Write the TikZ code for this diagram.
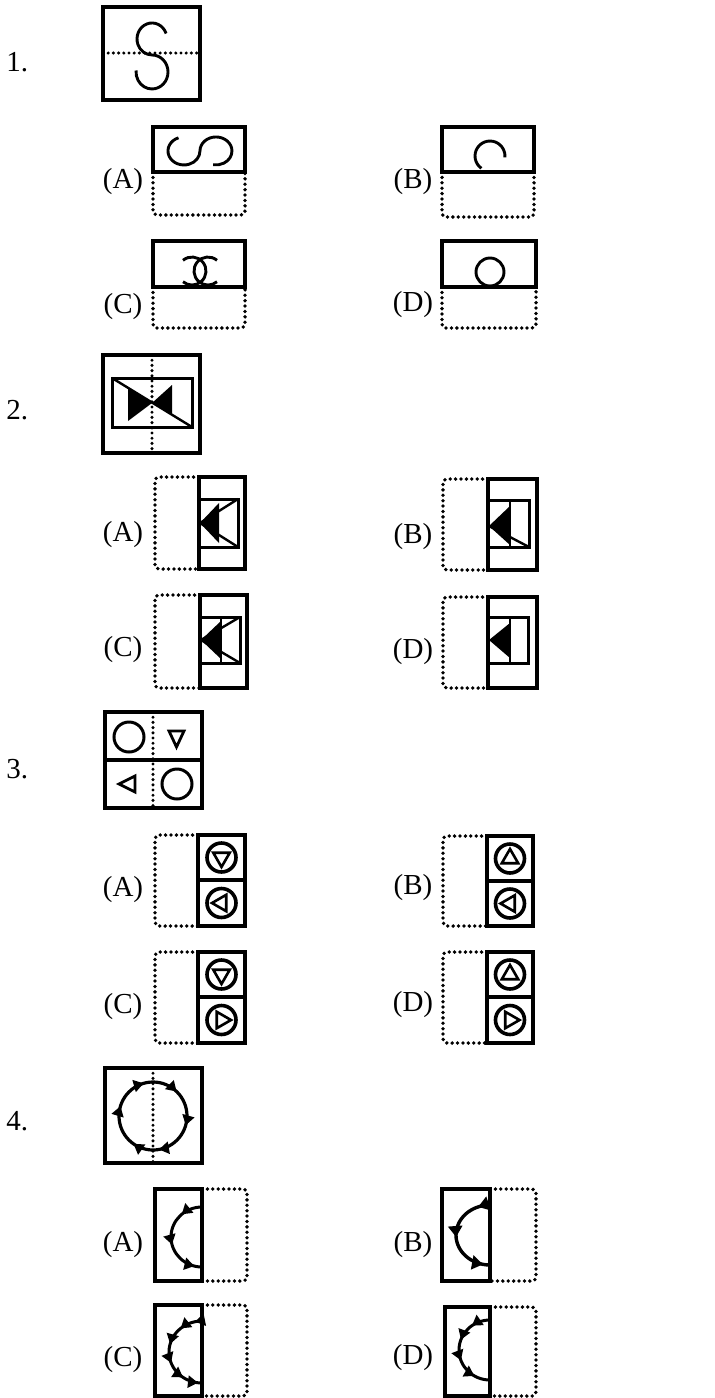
\documentclass[tikz,border=0pt]{standalone}
\usepackage{fontspec}
\setmainfont{Liberation Serif}
\usetikzlibrary{decorations.markings,arrows.meta}
\tikzset{
  solidbox/.style={line width=1.6pt},
  dotbox/.style={line width=1.9pt, dash pattern=on 0pt off 2.7pt, line cap=round, rounded corners=2pt},
  fold/.style={line width=1.7pt, dash pattern=on 0pt off 2.6pt, line cap=round},
  glyph/.style={line width=1.45pt},
  ring/.style={line width=1.8pt},
  lbl/.style={font=\fontsize{14.5}{16}\selectfont, inner sep=0pt},
  pics/tri/.style={code={\draw[line width=1.3pt, line join=miter] (#1:9.5) -- ({#1+120}:9.5) -- ({#1+240}:9.5) -- cycle;}}
}
\begin{document}
\begin{tikzpicture}[x=0.5pt,y=-0.5pt]
\useasboundingbox (0,0) rectangle (714,1398);

% ---------- labels ----------
\node[lbl,anchor=west] (n1) at (6,62) {1.};
\node[lbl,anchor=west] (n2) at (6,410) {2.};
\node[lbl,anchor=west] (n3) at (6,769) {3.};
\node[lbl,anchor=west] (n4) at (6,1121) {4.};
\node[lbl] (l1a) at (123,182) {(A)};
\node[lbl] (l1b) at (413,182) {(B)};
\node[lbl] (l1c) at (123,307) {(C)};
\node[lbl] (l1d) at (413,305) {(D)};
\node[lbl] (l2a) at (123,535) {(A)};
\node[lbl] (l2b) at (413,537) {(B)};
\node[lbl] (l2c) at (123,650) {(C)};
\node[lbl] (l2d) at (413,652) {(D)};
\node[lbl] (l3a) at (123,890) {(A)};
\node[lbl] (l3b) at (413,888) {(B)};
\node[lbl] (l3c) at (123,1007) {(C)};
\node[lbl] (l3d) at (413,1005) {(D)};
\node[lbl] (l4a) at (123,1245) {(A)};
\node[lbl] (l4b) at (413,1245) {(B)};
\node[lbl] (l4c) at (123,1360) {(C)};
\node[lbl] (l4d) at (413,1358) {(D)};

% ================= Question 1 =================
\draw[solidbox] (103,7) rectangle (200,100);
\draw[fold] (103,53) -- (200,53);
\draw[glyph] (166.1,33.5) arc[start angle=-20,end angle=-270,x radius=15,y radius=16]
  arc[start angle=-90,end angle=185,x radius=16,y radius=17];
% A
\draw[dotbox] (153,172) -- (153,215) -- (245,215) -- (245,172);
\draw[solidbox] (153,127) rectangle (245,172);
\draw[glyph] (178.5,137.8) arc[start angle=-110,end angle=-360,x radius=16,y radius=14]
  arc[start angle=-180,end angle=100,x radius=16,y radius=14];
% B
\draw[dotbox] (442,172) -- (442,217) -- (534,217) -- (534,172);
\draw[solidbox] (442,127) rectangle (534,172);
\draw[glyph] (481.4,168.3) arc[start angle=-235,end angle=5,radius=15];
% C
\draw[dotbox] (153,287) -- (153,328) -- (245,328) -- (245,287);
\draw[solidbox] (153,241) rectangle (245,287);
\draw[glyph] (183.0,260.3) arc[start angle=-130,end angle=130,radius=14];
\draw[glyph] (217.0,260.3) arc[start angle=-50,end angle=-310,radius=14];
% D
\draw[dotbox] (442,287) -- (442,328) -- (536,328) -- (536,287);
\draw[solidbox] (442,241) rectangle (536,287);
\draw[glyph] (490,272) circle[radius=14];

% ================= Question 2 =================
\draw[solidbox] (103,355) rectangle (200,453);
\draw[fold] (152,355) -- (152,453);
\begin{scope}
  \clip (112,378) -- (192,427) -- (112,427) -- cycle;
  \fill (128,384) -- (128,421) -- (152,403) -- cycle;
\end{scope}
\begin{scope}
  \clip (112,378) -- (192,378) -- (192,427) -- cycle;
  \fill (172,385) -- (172,422) -- (152,403) -- cycle;
\end{scope}
\draw[line width=1.5pt] (112,378) rectangle (192,427);
\draw[line width=1.2pt] (112,378) -- (192,427);
% A
\draw[dotbox] (199,477) -- (155,477) -- (155,569) -- (199,569);
\draw[solidbox] (199,477) rectangle (245,569);
\draw[line width=1.5pt] (199,499) rectangle (238,547);
\fill (200,523) -- (219,503) -- (219,543) -- cycle;
\draw[line width=1.2pt] (200,523) -- (238,499) (200,523) -- (238,547);
% B
\draw[dotbox] (488,479) -- (443,479) -- (443,570) -- (488,570);
\draw[solidbox] (488,479) rectangle (537,570);
\draw[line width=1.5pt] (488,500) rectangle (529,547);
\draw[line width=1.2pt] (510,500) -- (510,547);
\fill (489,526) -- (510,506) -- (510,545) -- cycle;
\draw[line width=1.2pt] (489,526) -- (529,547);
% C
\draw[dotbox] (200,595) -- (155,595) -- (155,688) -- (200,688);
\draw[solidbox] (200,595) rectangle (247,688);
\draw[line width=1.5pt] (200,617) rectangle (240,663);
\draw[line width=1.2pt] (221,617) -- (221,663);
\fill (201,640) -- (221,621) -- (221,659) -- cycle;
\draw[line width=1.2pt] (201,640) -- (240,617) (201,640) -- (240,663);
% D
\draw[dotbox] (488,597) -- (443,597) -- (443,688) -- (488,688);
\draw[solidbox] (488,597) rectangle (537,688);
\draw[line width=1.5pt] (488,617) rectangle (528,663);
\draw[line width=1.2pt] (510,617) -- (510,663);
\fill (489,640) -- (510,623) -- (510,658) -- cycle;

% ================= Question 3 =================
\draw[solidbox] (105,712) rectangle (202,808);
\draw[solidbox] (105,760) -- (202,760);
\draw[fold] (153,712) -- (153,808);
\draw[line width=1.5pt] (129,737) circle[radius=15];
\draw[line width=1.5pt] (177,784) circle[radius=15];
\draw[line width=1.4pt, line join=miter] (169,731) -- (184,731) -- (176.5,747) -- cycle;
\draw[line width=1.4pt, line join=miter] (119,784) -- (135,776) -- (135,792) -- cycle;
% A
\draw[dotbox] (198,835) -- (155,835) -- (155,926) -- (198,926);
\draw[solidbox] (198,835) rectangle (245,926);
\draw[solidbox] (198,880) -- (245,880);
\draw[ring] (221.5,857.5) circle[radius=14.5];
\draw[ring] (221.5,903) circle[radius=14.5];
\pic at (221.5,857.5) {tri=90};
\pic at (221.5,903) {tri=180};
% B
\draw[dotbox] (487,836) -- (443,836) -- (443,926) -- (487,926);
\draw[solidbox] (487,836) rectangle (533,926);
\draw[solidbox] (487,881) -- (533,881);
\draw[ring] (510,858.5) circle[radius=14.5];
\draw[ring] (510,903.5) circle[radius=14.5];
\pic at (510,858.5) {tri=270};
\pic at (510,903.5) {tri=180};
% C
\draw[dotbox] (198,952) -- (155,952) -- (155,1043) -- (198,1043);
\draw[solidbox] (198,952) rectangle (245,1043);
\draw[solidbox] (198,997) -- (245,997);
\draw[ring] (221.5,974.5) circle[radius=14.5];
\draw[ring] (221.5,1020) circle[radius=14.5];
\pic at (221.5,974.5) {tri=90};
\pic at (221.5,1020) {tri=0};
% D
\draw[dotbox] (487,952) -- (443,952) -- (443,1043) -- (487,1043);
\draw[solidbox] (487,952) rectangle (533,1043);
\draw[solidbox] (487,997) -- (533,997);
\draw[ring] (510,974.5) circle[radius=14.5];
\draw[ring] (510,1020) circle[radius=14.5];
\pic at (510,974.5) {tri=270};
\pic at (510,1020) {tri=0};

% ================= Question 4 =================
\draw[solidbox] (105,1068) rectangle (202,1163);
\draw[fold] (153,1068) -- (153,1163);
\draw[line width=1.6pt, postaction={decorate}, decoration={markings,
   mark=at position 0.044 with {\arrow{Triangle[length=5pt,width=6pt]}},
   mark=at position 0.222 with {\arrow{Triangle[length=5pt,width=6pt]}},
   mark=at position 0.347 with {\arrow{Triangle[length=5pt,width=6pt]}},
   mark=at position 0.547 with {\arrow{Triangle[length=5pt,width=6pt]}},
   mark=at position 0.706 with {\arrow{Triangle[length=5pt,width=6pt]}},
   mark=at position 0.872 with {\arrow{Triangle[length=5pt,width=6pt]}}}]
  (187,1116) arc[start angle=0,end angle=360,radius=34];
% A
\draw[dotbox] (202,1189) -- (247,1189) -- (247,1281) -- (202,1281);
\draw[solidbox] (155,1189) rectangle (202,1281);
\draw[line width=1.5pt, postaction={decorate}, decoration={markings,
   mark=at position 0.23 with {\arrow{Triangle[length=5pt,width=6pt]}},
   mark=at position 0.58 with {\arrow{Triangle[length=5pt,width=6pt]}},
   mark=at position 0.92 with {\arrow{Triangle[length=5pt,width=6pt]}}}]
  (202,1207) arc[start angle=-90,end angle=-270,x radius=31,y radius=30];
% B
\draw[dotbox] (490,1189) -- (536,1189) -- (536,1281) -- (490,1281);
\draw[solidbox] (442,1189) rectangle (490,1281);
\draw[line width=1.7pt, postaction={decorate}, decoration={markings,
   mark=at position 0.12 with {\arrow{Triangle[length=5.5pt,width=7pt]}},
   mark=at position 0.52 with {\arrow{Triangle[length=5.5pt,width=7pt]}},
   mark=at position 0.93 with {\arrow{Triangle[length=5.5pt,width=7pt]}}}]
  (490,1205) arc[start angle=-90,end angle=-270,x radius=34,y radius=30];
% C
\draw[dotbox] (202,1305) -- (247,1305) -- (247,1396) -- (202,1396);
\draw[solidbox] (155,1305) rectangle (202,1396);
\draw[line width=1.5pt, postaction={decorate}, decoration={markings,
   mark=at position 0.07 with {\arrow{Triangle[length=5pt,width=6pt]}},
   mark=at position 0.23 with {\arrow{Triangle[length=5pt,width=6pt]}},
   mark=at position 0.42 with {\arrow{Triangle[length=5pt,width=6pt]}},
   mark=at position 0.61 with {\arrow{Triangle[length=5pt,width=6pt]}},
   mark=at position 0.80 with {\arrow{Triangle[length=5pt,width=6pt]}},
   mark=at position 0.96 with {\arrow{Triangle[length=5pt,width=6pt]}}}]
  (202,1321) arc[start angle=-90,end angle=-270,x radius=33,y radius=31];
% D
\draw[dotbox] (490,1307) -- (536,1307) -- (536,1396) -- (490,1396);
\draw[solidbox] (445,1307) rectangle (490,1396);
\draw[line width=1.5pt, postaction={decorate}, decoration={markings,
   mark=at position 0.20 with {\arrow{Triangle[length=5pt,width=6pt]}},
   mark=at position 0.39 with {\arrow{Triangle[length=5pt,width=6pt]}},
   mark=at position 0.61 with {\arrow{Triangle[length=5pt,width=6pt]}},
   mark=at position 0.83 with {\arrow{Triangle[length=5pt,width=6pt]}}}]
  (490,1320) arc[start angle=-90,end angle=-270,x radius=31,y radius=30];
\end{tikzpicture}
\end{document}
